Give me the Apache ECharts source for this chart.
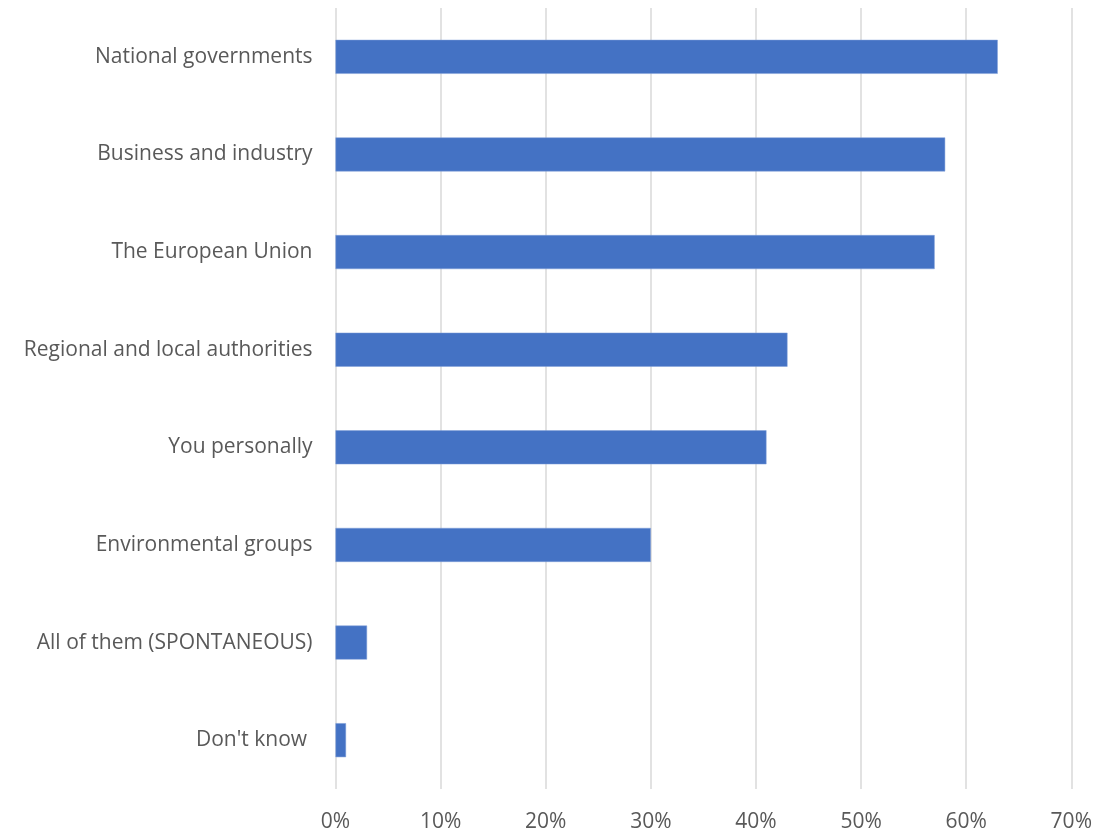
<!DOCTYPE html>
<html>
<head>
<meta charset="utf-8">
<script src="https://cdn.jsdelivr.net/npm/echarts@6/dist/echarts.min.js"></script>
<style>html,body{margin:0;padding:0;background:#fff}#c{width:1117px;height:833px}</style>
</head>
<body>
<div id="c"></div>
<script>
const categories = ["National governments","Business and industry","The European Union","Regional and local authorities","You personally","Environmental groups","All of them (SPONTANEOUS)","Don't know "];
const values = [63, 58, 57, 43, 41, 30, 3, 1];
const tickLabels = ["0%","10%","20%","30%","40%","50%","60%","70%"];

const chart = echarts.init(document.getElementById('c'), null, {renderer:'canvas'});
const font = '"Open Sans", sans-serif';
chart.setOption({
  animation: false,
  backgroundColor: '#ffffff',
  grid: {left: 335.5, right: 45.7, top: 8, bottom: 41, containLabel: false},
  xAxis: {
    type: 'value', min: 0, max: 70, interval: 10,
    axisLine: {show: false}, axisTick: {show: false},
    splitLine: {show: true, lineStyle: {color: '#d9d9d9', width: 1.5}},
    axisLabel: {
      margin: 23, color: '#595959', fontSize: 21, fontFamily: font,
      formatter: v => tickLabels[Math.round(v/10)]
    }
  },
  yAxis: {
    type: 'category', data: categories, inverse: true,
    axisLine: {show: false}, axisTick: {show: false},
    axisLabel: {margin: 23, color: '#595959', fontSize: 21, fontFamily: font}
  },
  series: [{
    type: 'bar', data: values, barWidth: 34,
    itemStyle: {color: '#4472C4', borderColor: '#7f9fd8', borderWidth: 0.5}
  }]
});
</script>
</body>
</html>
